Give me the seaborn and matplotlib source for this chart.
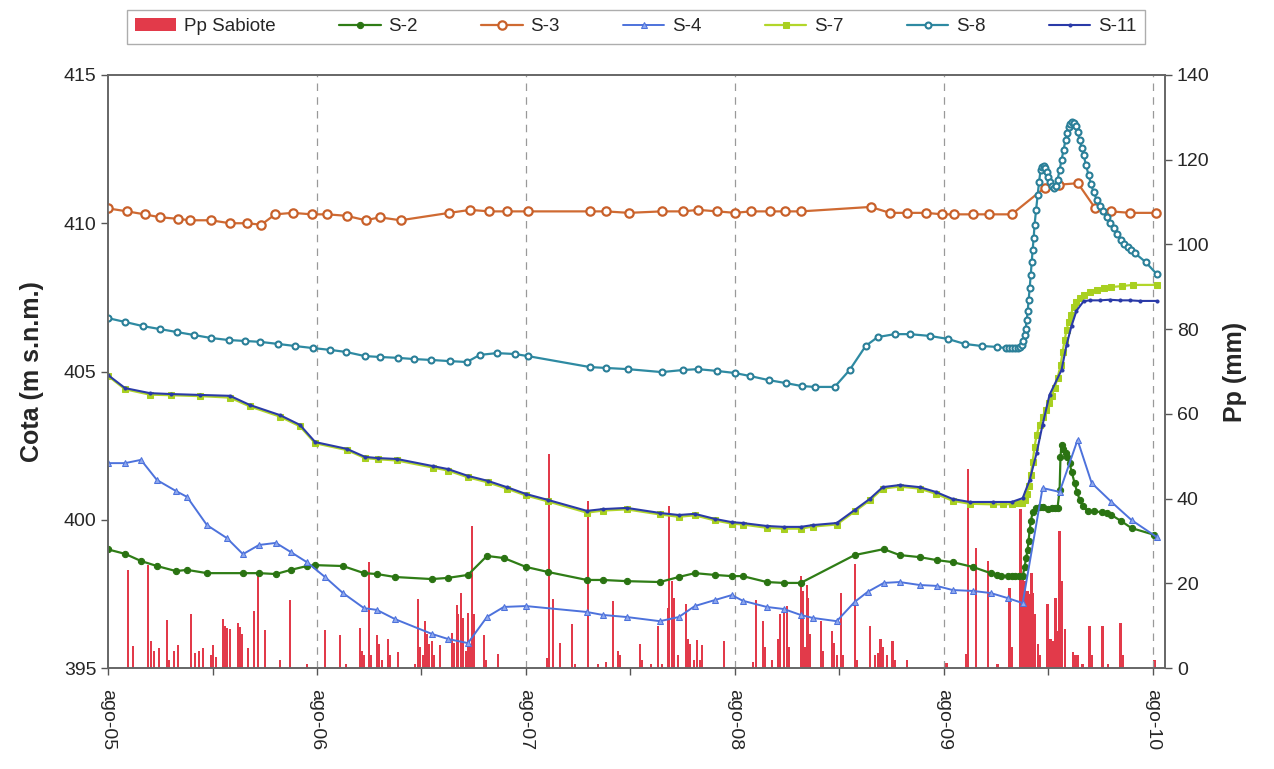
import matplotlib
matplotlib.use('Agg')
import matplotlib.pyplot as plt
import numpy as np
import pandas as pd
import seaborn as sns

# x axis in months since ago-05
tick_labels = ['ago-05', 'ago-06', 'ago-07', 'ago-08', 'ago-09', 'ago-10']

# precipitation Sabiote (mm)
pp_month = [1.15, 1.44, 2.30, 2.47, 2.64, 2.93, 3.39, 3.5, 3.79, 4.02, 4.76, 4.99, 5.22, 5.45, 5.91, 6.03,
            6.2, 6.6, 6.72, 6.83, 7.0, 7.46, 7.58, 7.69, 8.04, 8.38, 8.61, 9.01, 9.87, 10.45, 11.42,
            12.46, 13.32, 13.66, 14.47, 14.58, 14.7, 14.98, 15.1, 15.44, 15.56, 15.73, 16.07, 16.19, 16.65,
            17.62, 17.8, 17.91, 18.08, 18.2, 18.31, 18.43, 18.6, 18.71, 19.06, 19.75, 19.86, 20.03, 20.09,
            20.26, 20.38, 20.55, 20.67, 20.78, 20.9, 21.01, 21.58, 21.7, 22.39,
            25.2, 25.32, 25.55, 25.95, 26.64, 26.81, 27.55, 28.13, 28.59, 28.99, 29.28, 29.39, 30.54, 30.65,
            31.17, 31.57, 31.8, 32.15, 32.2, 32.38, 32.49, 32.72, 33.18, 33.3, 33.41, 33.64, 33.81, 33.98,
            34.1, 35.36,
            37.03, 37.2, 37.6, 37.72, 38.12, 38.46, 38.58, 38.81, 38.98, 39.09, 39.78, 39.9, 40.01, 40.13,
            40.18, 40.3, 40.93, 41.05, 41.56, 41.68, 41.85, 42.08, 42.19, 42.88, 43.0, 43.74, 44.03, 44.2,
            44.37, 44.49, 44.72, 45.06, 45.18, 45.87, 48.16,
            49.31, 49.37, 49.83, 50.52, 51.09, 51.78, 51.89, 52.41, 52.53, 52.64, 52.81, 52.93, 53.04, 53.1,
            53.21, 53.39, 53.5, 53.96, 54.13, 54.25, 54.42, 54.53, 54.65, 54.76, 54.94, 55.4, 55.57, 55.68,
            55.97, 56.37, 56.49, 57.12, 57.41, 58.15, 58.27, 60.1]
pp_mm = [23.1, 5.2, 24.3, 6.4, 4, 4.7, 11.3, 2, 4, 5.4, 12.7, 3.5, 4, 4.7, 3, 5.4,
         2.5, 11.6, 9.9, 9.4, 9.2, 10.6, 9.7, 8, 4.7, 13.5, 22, 9, 2, 16, 1,
         9, 7.8, 1, 9.4, 4, 3, 25, 3, 7.8, 5.7, 2, 6.8, 3, 3.8,
         1, 16.3, 5, 3, 11, 8, 5.7, 6.4, 3, 5.4, 8.3, 6, 14.9, 12.7,
         17.7, 11.8, 4, 13, 5, 33.5, 12.7, 7.8, 2, 3.3,
         2.4, 50.5, 16.3, 5.9, 10.4, 1, 39.4, 1, 1.5, 15.8, 4, 3, 5.7, 2,
         1, 9.9, 1, 14.2, 38.2, 20.5, 16.5, 3, 15.1, 6.8, 5.7, 2, 6.6, 2,
         5.4, 6.4,
         1.5, 16, 11, 5, 2, 6.8, 12.7, 14.2, 14.6, 5, 21.7, 18.2, 5, 19.6,
         16.5, 8, 11, 4, 8.7, 6, 3, 17.7, 3, 24.5, 2, 9.9, 3, 3.5,
         6.8, 5, 3, 6.4, 2, 2, 1.2,
         3.3, 47, 28.3, 25.3, 1, 18.9, 5, 37.5, 22.4, 20.5, 18.2, 17.5, 22.4, 17.7,
         12.7, 5.7, 3, 15.1, 6.8, 6.4, 16.5, 8.7, 32.3, 20.5, 9.2, 3.8, 3, 3,
         1, 9.9, 3, 9.9, 1, 10.6, 3, 2]

# S-2
s2_month = [0.0, 0.98, 1.89, 2.81, 3.9, 4.54, 5.68, 7.75, 8.67, 9.64, 10.5, 11.42, 11.9, 13.49, 14.7,
            15.44, 16.48, 18.6, 19.52, 20.67, 21.76, 22.73, 24.0, 25.26, 27.5, 28.42, 29.79, 31.69,
            32.78, 33.7, 34.84, 35.82, 36.45, 37.83, 38.81, 39.78, 42.88, 44.55, 45.46, 46.61, 47.59,
            48.51, 49.66, 50.69, 51.06, 51.3, 51.66, 51.9, 52.1, 52.3, 52.53, 52.64, 52.72, 52.81, 52.87,
            52.93, 53.0, 53.1, 53.3, 53.5, 53.7, 53.96, 54.2, 54.4, 54.53, 54.65, 54.7, 54.76, 54.85, 54.99,
            55.1, 55.22, 55.35, 55.51, 55.65, 55.8, 56.0, 56.26, 56.6, 57.06, 57.35, 57.63, 58.2, 58.78, 60.1]
s2_val = [399.0, 398.85, 398.61, 398.44, 398.27, 398.31, 398.2, 398.2, 398.2, 398.17, 398.31, 398.44, 398.47,
          398.44, 398.2, 398.17, 398.07, 398.0, 398.04, 398.14, 398.78, 398.71, 398.41, 398.24, 397.97,
          397.97, 397.93, 397.9, 398.07, 398.2, 398.14, 398.1, 398.1, 397.9, 397.87, 397.87, 398.81, 399.01,
          398.81, 398.74, 398.64, 398.57, 398.41, 398.2, 398.14, 398.12, 398.1, 398.1, 398.1, 398.1, 398.1,
          398.41, 398.7, 398.98, 399.3, 399.65, 399.95, 400.26, 400.38, 400.43, 400.42, 400.36, 400.38,
          400.4, 400.4, 401.0, 402.12, 402.52, 402.4, 402.25, 402.1, 401.91, 401.6, 401.24, 400.95, 400.67,
          400.45, 400.3, 400.28, 400.26, 400.22, 400.16, 399.95, 399.72, 399.49]

# S-3
s3_month = [0.0, 1.1, 2.1, 3.0, 4.0, 4.7, 5.9, 7.0, 8.0, 8.8, 9.6, 10.6, 11.7, 12.6, 13.7, 14.8, 15.6, 16.8,
            19.6, 20.8, 21.9, 22.9, 24.1, 27.7, 28.6, 29.9, 31.8, 33.0, 33.9, 35.0, 36.0, 36.9, 38.0, 38.9,
            39.8, 43.8, 44.9, 45.9, 47.0, 47.9, 48.6, 49.7, 50.6, 51.9, 53.8, 54.6, 55.7, 56.7, 57.6, 58.7,
            60.2]
s3_val = [410.5, 410.4, 410.3, 410.2, 410.15, 410.1, 410.1, 410.0, 410.0, 409.95, 410.3, 410.35, 410.3, 410.3,
          410.25, 410.1, 410.2, 410.1, 410.35, 410.45, 410.4, 410.4, 410.4, 410.4, 410.4, 410.35, 410.4,
          410.4, 410.45, 410.4, 410.35, 410.4, 410.4, 410.4, 410.4, 410.55, 410.35, 410.35, 410.35, 410.3,
          410.3, 410.3, 410.3, 410.3, 411.2, 411.3, 411.35, 410.5, 410.4, 410.35, 410.35]

# S-4
s4_month = [0.0, 0.98, 1.89, 2.81, 3.9, 4.54, 5.68, 6.83, 7.75, 8.67, 9.64, 10.5, 11.42, 12.46, 13.49, 14.7,
            15.44, 16.48, 18.6, 19.52, 20.67, 21.76, 22.73, 24.0, 27.5, 28.42, 29.79, 31.69, 32.78, 33.7,
            34.84, 35.82, 36.45, 37.83, 38.81, 39.78, 40.47, 41.85, 42.88, 43.63, 44.55, 45.46, 46.61, 47.59,
            48.51, 49.66, 50.69, 51.66, 52.53, 53.67, 54.65, 55.68, 56.49, 57.63, 58.78, 60.22]
s4_val = [401.91, 401.91, 402.02, 401.34, 400.97, 400.77, 399.82, 399.38, 398.84, 399.15, 399.22, 398.91,
          398.57, 398.07, 397.53, 397.02, 396.96, 396.65, 396.15, 395.98, 395.84, 396.72, 397.06, 397.09,
          396.89, 396.79, 396.72, 396.58, 396.72, 397.09, 397.29, 397.46, 397.27, 397.06, 396.99, 396.79,
          396.69, 396.58, 397.23, 397.57, 397.87, 397.9, 397.8, 397.77, 397.63, 397.6, 397.53, 397.36,
          397.19, 401.07, 400.94, 402.69, 401.24, 400.6, 399.99, 399.42]

# S-7
s7_month = [0.0, 0.98, 2.4, 3.6, 5.28, 7.0, 8.15, 9.87, 11.02, 11.9, 13.72, 14.76, 15.5, 16.59, 18.66, 19.52,
            20.67, 21.82, 22.9, 24.0, 25.26, 27.5, 28.42, 29.79, 31.69, 32.78, 33.7, 34.84, 35.82, 36.45,
            37.83, 38.81, 39.78, 40.47, 41.85, 42.88, 43.74, 44.49, 45.46, 46.61, 47.53, 48.51, 49.48, 50.8,
            51.4, 51.9, 52.2, 52.47, 52.64, 52.76, 52.87, 52.99, 53.1, 53.21, 53.33, 53.5, 53.67, 53.85, 54.02,
            54.19, 54.36, 54.53, 54.71, 54.82, 54.94, 55.05, 55.17, 55.28, 55.45, 55.62, 55.8, 56.03, 56.37,
            56.77, 57.18, 57.63, 58.21, 58.84, 60.22]
s7_val = [404.85, 404.4, 404.22, 404.2, 404.17, 404.12, 403.82, 403.48, 403.15, 402.58, 402.35, 402.08,
          402.04, 402.0, 401.76, 401.66, 401.43, 401.26, 401.05, 400.82, 400.62, 400.24, 400.31, 400.35,
          400.18, 400.1, 400.15, 399.98, 399.87, 399.84, 399.73, 399.7, 399.7, 399.77, 399.84, 400.28,
          400.65, 401.05, 401.12, 401.05, 400.88, 400.64, 400.54, 400.52, 400.52, 400.53, 400.55, 400.58,
          400.67, 400.87, 401.14, 401.51, 401.95, 402.45, 402.86, 403.2, 403.47, 403.7, 403.94, 404.17,
          404.44, 404.78, 405.22, 405.66, 406.06, 406.4, 406.67, 406.9, 407.18, 407.34, 407.48, 407.58,
          407.68, 407.75, 407.82, 407.85, 407.88, 407.92, 407.92]

# S-8
s8_month = [0.0, 0.98, 2.01, 2.99, 3.96, 4.94, 5.91, 6.95, 7.86, 8.73, 9.76, 10.73, 11.77, 12.74, 13.66,
            14.75, 15.61, 16.65, 17.57, 18.54, 19.63, 20.61, 21.35, 22.33, 23.36, 24.11, 27.67, 28.59, 29.85,
            31.8, 33.01, 33.87, 34.96, 35.99, 36.85, 37.94, 38.92, 39.84, 40.59, 41.73, 42.59, 43.51, 44.2,
            45.18, 46.04, 47.19, 48.22, 49.2, 50.17, 51.03, 51.55, 51.72, 51.89, 52.06, 52.24, 52.36, 52.47,
            52.56, 52.64, 52.7, 52.76, 52.82, 52.87, 52.93, 52.99, 53.05, 53.1, 53.16, 53.21, 53.3, 53.39,
            53.47, 53.56, 53.65, 53.73, 53.82, 53.9, 53.99, 54.08, 54.2, 54.31, 54.42, 54.53, 54.65, 54.76,
            54.88, 54.99, 55.08, 55.17, 55.26, 55.34, 55.45, 55.57, 55.68, 55.8, 55.92, 56.03, 56.17, 56.31,
            56.45, 56.6, 56.78, 56.95, 57.15, 57.35, 57.55, 57.75, 57.95, 58.15, 58.35, 58.55, 58.75, 58.96,
            59.59, 60.22]
s8_val = [406.8, 406.67, 406.53, 406.43, 406.33, 406.23, 406.13, 406.06, 406.03, 406.0, 405.93, 405.86,
          405.79, 405.73, 405.66, 405.52, 405.49, 405.46, 405.42, 405.39, 405.35, 405.32, 405.56, 405.62,
          405.59, 405.52, 405.15, 405.12, 405.08, 404.98, 405.05, 405.08, 405.02, 404.95, 404.85, 404.71,
          404.61, 404.51, 404.48, 404.48, 405.05, 405.86, 406.16, 406.26, 406.26, 406.2, 406.1, 405.93,
          405.86, 405.83, 405.79, 405.78, 405.79, 405.78, 405.79, 405.82, 405.89, 406.02, 406.23, 406.45,
          406.74, 407.05, 407.41, 407.8, 408.25, 408.7, 409.1, 409.5, 409.94, 410.45, 410.95, 411.4, 411.8,
          411.9, 411.93, 411.85, 411.73, 411.55, 411.39, 411.25, 411.19, 411.25, 411.46, 411.8, 412.13,
          412.48, 412.81, 413.05, 413.25, 413.36, 413.41, 413.38, 413.28, 413.08, 412.81, 412.55, 412.3,
          411.95, 411.63, 411.32, 411.05, 410.8, 410.58, 410.4, 410.21, 410.02, 409.84, 409.64, 409.44,
          409.3, 409.2, 409.1, 409.0, 408.69, 408.29]

# S-11
s11_month = [0.0, 0.98, 2.4, 3.6, 5.28, 7.0, 8.15, 9.87, 11.02, 11.9, 13.72, 14.76, 15.5, 16.59, 18.66,
             19.52, 20.67, 21.82, 22.9, 24.0, 25.26, 27.5, 28.42, 29.79, 31.69, 32.78, 33.7, 34.84, 35.82,
             36.45, 37.83, 38.81, 39.78, 40.47, 41.85, 42.88, 43.74, 44.49, 45.46, 46.61, 47.53, 48.51,
             49.48, 50.8, 51.9, 52.53, 52.93, 53.33, 53.67, 54.07, 54.76, 55.05, 55.34, 55.62, 56.03, 56.37,
             56.95, 57.52, 58.09, 58.67, 59.24, 60.22]
s11_val = [404.88, 404.44, 404.27, 404.24, 404.21, 404.18, 403.87, 403.53, 403.2, 402.62, 402.39, 402.12,
           402.08, 402.05, 401.81, 401.71, 401.48, 401.31, 401.1, 400.87, 400.67, 400.3, 400.36, 400.4,
           400.23, 400.16, 400.2, 400.03, 399.92, 399.89, 399.79, 399.76, 399.76, 399.82, 399.89, 400.33,
           400.7, 401.1, 401.17, 401.1, 400.94, 400.7, 400.6, 400.6, 400.6, 400.73, 401.34, 402.25, 403.2,
           404.21, 405.05, 405.9, 406.55, 407.05, 407.37, 407.4, 407.4, 407.42, 407.4, 407.4, 407.38, 407.38]

sns.set_style('white')
plt.rcParams['font.family'] = ['Liberation Sans', 'DejaVu Sans']

fig, ax = plt.subplots(figsize=(12.74, 7.69), dpi=100)
fig.subplots_adjust(left=0.0848, right=0.9144, top=0.9025, bottom=0.1313)
ax2 = ax.twinx()

# precipitation bars on the right axis
ax2.bar(pp_month, pp_mm, width=0.13, color='#e23a4a', linewidth=0, label='Pp Sabiote')
ax2.set_ylim(0, 140)
ax2.set_yticks(range(0, 141, 20))
ax2.set_ylabel('Pp (mm)', fontsize=18, fontweight='bold', labelpad=10)

series = [
    ('S-2', s2_month, s2_val, dict(color='#2f7d16', marker='o', markersize=4.5, markerfacecolor='#2a7312',
                                   markeredgecolor='#2a7312', linewidth=1.6)),
    ('S-3', s3_month, s3_val, dict(color='#cf6a32', marker='o', markersize=6.0, markerfacecolor='white',
                                   markeredgecolor='#c8602a', markeredgewidth=1.6, linewidth=1.6)),
    ('S-4', s4_month, s4_val, dict(color='#4d72dc', marker='^', markersize=4.5, markerfacecolor='#8ea8ee',
                                   markeredgecolor='#4d72dc', linewidth=1.4)),
    ('S-7', s7_month, s7_val, dict(color='#b2d62a', marker='s', markersize=3.8, markerfacecolor='#a8d020',
                                   markeredgecolor='#a8d020', linewidth=1.6)),
    ('S-8', s8_month, s8_val, dict(color='#2e8aa2', marker='o', markersize=4.3, markerfacecolor='white',
                                   markeredgecolor='#2a7f98', markeredgewidth=1.5, linewidth=1.6)),
    ('S-11', s11_month, s11_val, dict(color='#2a3aa8', marker='o', markersize=2.2, markerfacecolor='#2a3aa8',
                                      markeredgecolor='#2a3aa8', linewidth=1.5)),
]
for name, xs, ys, kw in series:
    sns.lineplot(x=xs, y=ys, ax=ax, label=name, **kw)

ax.set_zorder(ax2.get_zorder() + 1)
ax.patch.set_visible(False)

ax.set_xlim(0, 60.7)
ax.set_ylim(395, 415)
ax.set_yticks(range(395, 416, 5))
ax.set_xticks(range(0, 61, 12))
ax.set_xticklabels(tick_labels, rotation=-90)
ax.set_xticks(range(6, 61, 12), minor=True)
ax.set_ylabel('Cota (m s.n.m.)', fontsize=18, fontweight='bold', labelpad=14)

for xg in range(12, 61, 12):
    ax.axvline(xg, color='#999999', linestyle=(0, (6, 5)), linewidth=0.9, zorder=0)

for a in (ax, ax2):
    a.tick_params(axis='both', which='major', labelsize=14, length=5, width=1, direction='out',
                  color='#555555')
    a.tick_params(axis='x', which='minor', length=5, width=1, direction='out', color='#555555')
    for sp in a.spines.values():
        sp.set_color('#666666')
        sp.set_linewidth(1.2)
ax.tick_params(axis='x', bottom=True, which='both', pad=10)
ax.tick_params(axis='y', left=True)
ax2.tick_params(axis='y', right=True)

# legend on top
h1, l1 = ax.get_legend_handles_labels()
h2, l2 = ax2.get_legend_handles_labels()
ax.get_legend().remove()
leg = fig.legend(h2 + h1, l2 + l1, loc='center', bbox_to_anchor=(0.499, 0.9655), ncol=7,
                 fontsize=13.5, frameon=True, fancybox=False, edgecolor='#999999',
                 handlelength=2.2, columnspacing=3.4, borderpad=0.45, handletextpad=0.4)
leg.get_frame().set_linewidth(1.0)

fig.savefig('out.png', dpi=100)
